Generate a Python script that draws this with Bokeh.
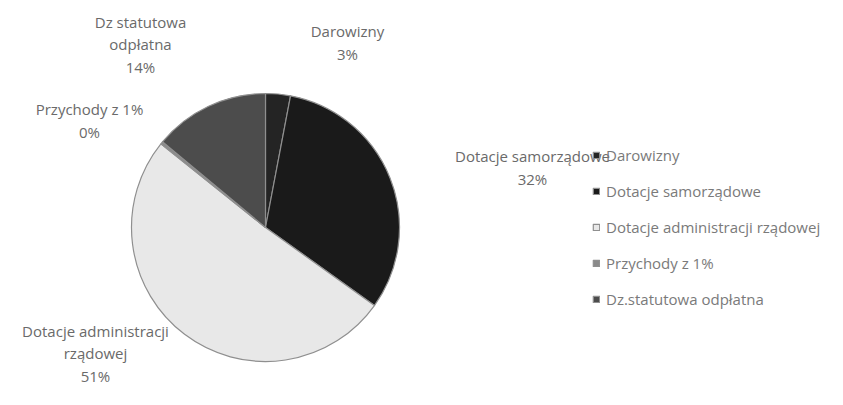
import math
from bokeh.plotting import figure
from bokeh.models import Range1d, ColumnDataSource, Legend, LegendItem
from bokeh.core.properties import value
from bokeh.embed import file_html
from bokeh.resources import INLINE

# ---- data ----
categories = ["Darowizny", "Dotacje samorządowe", "Dotacje administracji rządowej",
              "Przychody z 1%", "Dz.statutowa odpłatna"]
label_names = ["Darowizny", "Dotacje samorządowe", "Dotacje administracji\nrządowej",
               "Przychody z 1%", "Dz statutowa\nodpłatna"]
values = [3, 32, 51, 0.3, 14]
colors = ["#242424", "#1a1a1a", "#e8e8e8", "#8a8a8a", "#4c4c4c"]

# ---- layout (pixel coordinates of the picture, y down) ----
W, H = 827, 389
cx, cy, R = 265, 227, 134
# label block centres as offsets from the pie centre (px, y down)
label_offsets = [(82, -185), (267, -60), (-170, 126), (-176, -107), (-125, -183)]

def dy(sy):
    return H - sy

total = sum(values)
starts, ends = [], []
acc = 0.0
for v in values:
    a0 = math.pi / 2 - 2 * math.pi * acc / total
    acc += v
    a1 = math.pi / 2 - 2 * math.pi * acc / total
    starts.append(a0)
    ends.append(a1)

pcts = [f"{round(100 * v / total)}%" for v in values]
texts = [f"{n}\n{p}" for n, p in zip(label_names, pcts)]

src = ColumnDataSource(dict(
    x=[cx] * len(values), y=[dy(cy)] * len(values),
    start=starts, end=ends, color=colors, cat=categories,
))

p = figure(width=W, height=H, output_backend="svg", toolbar_location=None,
           x_range=Range1d(0, W), y_range=Range1d(0, H), min_border=0)
p.axis.visible = False
p.grid.visible = False
p.outline_line_color = None
p.background_fill_color = "white"
p.border_fill_color = "white"

r = p.wedge(x="x", y="y", radius=R, radius_units="screen",
            start_angle="start", end_angle="end", direction="clock",
            fill_color="color", line_color="#8f8f8f", line_width=1.2,
            source=src)

lsrc = ColumnDataSource(dict(
    x=[cx + o[0] for o in label_offsets],
    y=[dy(cy + o[1]) for o in label_offsets],
    t=texts,
))
p.text(x="x", y="y", text="t", source=lsrc, text_align="center",
       text_baseline="middle", text_font=value("Open Sans"), text_font_size="15px",
       text_color="#6a6a6a", text_line_height=1.12)

# legend: top of first entry at y=144 (picture px)
leg_top, item_h, gap = 144, 22, 14
leg_h = 5 * item_h + 4 * gap
legend = Legend(items=[LegendItem(label=c, renderers=[r], index=i)
                       for i, c in enumerate(categories)],
                location=(592, H - (leg_top + leg_h)), orientation="vertical",
                glyph_width=8, glyph_height=8, label_height=item_h, spacing=gap,
                label_standoff=6, padding=0, margin=0,
                label_text_font="Open Sans", label_text_font_size="15px",
                label_text_color="#7a7a7a",
                border_line_color=None, background_fill_alpha=0)
p.add_layout(legend)

open("out.html", "w").write(file_html(p, INLINE))
